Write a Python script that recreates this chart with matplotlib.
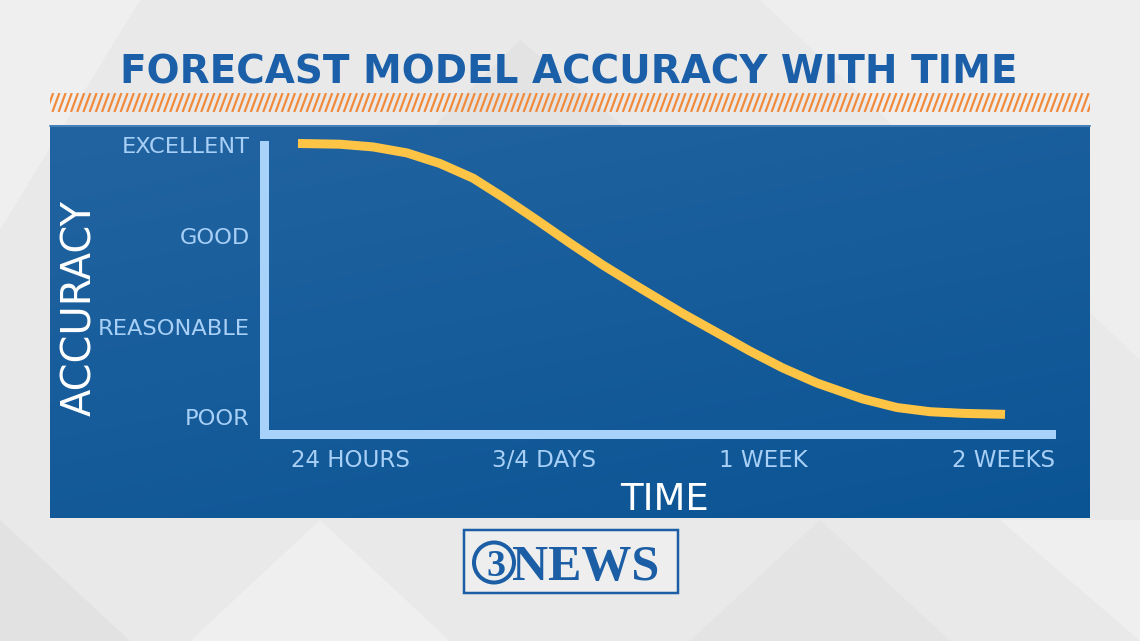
import numpy as np
import matplotlib
matplotlib.use("Agg")
import matplotlib.pyplot as plt
from matplotlib.patches import Rectangle, Polygon, Ellipse
from matplotlib.collections import LineCollection
from matplotlib.colors import to_rgb

# ---------------- data ----------------
title = "FORECAST MODEL ACCURACY WITH TIME"
y_axis_title = "ACCURACY"
x_axis_title = "TIME"
accuracy_levels = ["POOR", "REASONABLE", "GOOD", "EXCELLENT"]
accuracy_values = [0, 1, 2, 3]
time_labels = ["24 HOURS", "3/4 DAYS", "1 WEEK", "2 WEEKS"]
time_positions = [11.1, 35.6, 63.5, 94.0]
curve_x = [4.38, 9.72, 13.91, 18.23, 22.43, 26.62, 30.43, 34.75, 38.95,
           43.14, 47.46, 51.27, 53.30, 57.62, 61.82, 66.01, 70.33, 74.52,
           76.18, 80.50, 84.69, 88.88, 94.22]
curve_y = [3.019, 3.011, 2.981, 2.915, 2.798, 2.637, 2.427, 2.174, 1.921,
           1.678, 1.447, 1.249, 1.144, 0.935, 0.731, 0.544, 0.379, 0.252,
           0.203, 0.109, 0.063, 0.045, 0.034]
logo_text = "NEWS"
logo_number = "3"

# ---------------- figure ----------------
plt.rcParams['font.family'] = ['DejaVu Sans']
DPI = 100
W, H = 1140, 641
PT = 0.72  # points per pixel
fig = plt.figure(figsize=(W / DPI, H / DPI), dpi=DPI)
fig.patch.set_facecolor('#e9e9e9')

bg = fig.add_axes([0, 0, 1, 1])
bg.axis('off')

# subtle background facets
facets = [
    ([(0, 0), (140, 0), (0, 230)], '#efefef'),
    ([(420, 140), (520, 40), (640, 140)], '#e3e3e3'),
    ([(760, 0), (1140, 0), (1140, 360)], '#eeeeee'),
    ([(0, 520), (0, 641), (130, 641)], '#e2e2e2'),
    ([(190, 641), (320, 520), (450, 641)], '#efefef'),
    ([(690, 641), (820, 520), (950, 641)], '#e4e4e4'),
    ([(1000, 520), (1140, 520), (1140, 641)], '#efefef'),
]
for pts, col in facets:
    bg.add_patch(Polygon(pts, closed=True, facecolor=col, edgecolor='none', zorder=0))

# hatched orange band
band = Rectangle((50, 93), 1040, 19, facecolor='none', edgecolor='none', zorder=1)
bg.add_patch(band)
xs = np.arange(40, 1100, 6.2)
segs = [[(x0, 112), (x0 + 7, 93)] for x0 in xs]
lc = LineCollection(segs, colors='#f18a3b', linewidths=2.2 * PT, zorder=2)
bg.add_collection(lc)
lc.set_clip_path(band)

# blue panel gradient
ny, nx = 120, 240
yy, xx = np.mgrid[0:1:ny * 1j, 0:1:nx * 1j]
t = 0.65 * yy + 0.35 * xx
c0 = np.array(to_rgb('#2264a1'))
c1 = np.array(to_rgb('#0b5494'))
img = c0 + (c1 - c0) * t[..., None]
bg.imshow(img, extent=(50, 1090, 518, 125), aspect='auto',
          interpolation='bilinear', zorder=1)
bg.plot([50, 1090], [125.5, 125.5], color='#4d86bd', lw=1.2, zorder=2)

# title
bg.text(569, 83, title, ha='center', va='baseline', fontsize=28,
        fontweight='bold', color='#1a5fa8', zorder=3)

# axis titles
bg.text(91, 307.5, y_axis_title, rotation=90, rotation_mode='anchor',
        ha='center', va='baseline', fontsize=40 * PT, color='white', zorder=3)
bg.text(665, 510, x_axis_title, ha='center', va='baseline',
        fontsize=37 * PT, color='white', zorder=3)

# logo
logo_col = '#1b5ea5'
bg.add_patch(Rectangle((464, 530), 214, 63, facecolor='#eeeeee',
                       edgecolor=logo_col, lw=2.5 * PT, zorder=3))
bg.add_patch(Ellipse((494, 562.5), 40, 40, fill=False, edgecolor=logo_col,
                     lw=4 * PT, zorder=4))
bg.text(496, 576, logo_number, ha='center', va='baseline',
        family='Liberation Serif', fontweight='bold', fontsize=38 * PT,
        color=logo_col, zorder=4)
bg.text(512, 580, logo_text, ha='left', va='baseline',
        family='Liberation Serif', fontweight='bold', fontsize=50 * PT,
        color=logo_col, zorder=4)

bg.set_xlim(0, W)
bg.set_ylim(H, 0)

# ---------------- chart axes ----------------
L, R, T, B = 263.5, 1050.5, 145.2, 433.5
ax = fig.add_axes([L / W, 1 - B / H, (R - L) / W, (B - T) / H])
ax.patch.set_visible(False)
ax.set_xlim(0, 100)
ax.set_ylim(-0.177, 2.998)

axis_col = '#a9d2fb'
for s in ['top', 'right']:
    ax.spines[s].set_visible(False)
for s in ['left', 'bottom']:
    ax.spines[s].set_color(axis_col)
    ax.spines[s].set_linewidth(9 * PT)
    ax.spines[s].set_capstyle('projecting')

ax.plot(curve_x, curve_y, color='#fdc445', lw=9 * PT,
        solid_capstyle='butt', solid_joinstyle='round', clip_on=False, zorder=3)

ax.set_yticks(accuracy_values, accuracy_levels)
ax.set_xticks(time_positions, time_labels)
ax.tick_params(axis='y', length=0, pad=10, labelsize=22.5 * PT,
               labelcolor='#a8d0f7')
ax.tick_params(axis='x', length=0, pad=11.3, labelsize=23 * PT,
               labelcolor='#a8d0f7')

fig.savefig('out.png', dpi=DPI, facecolor=fig.get_facecolor())
